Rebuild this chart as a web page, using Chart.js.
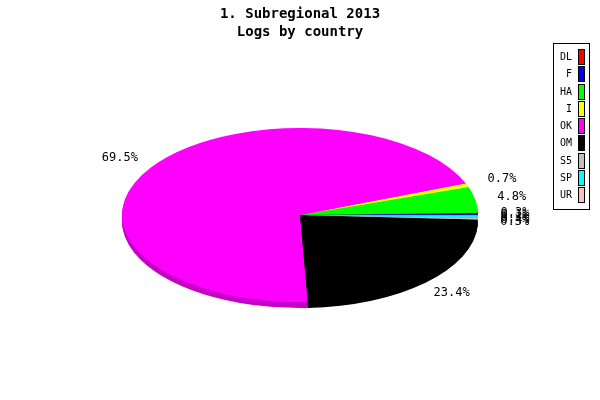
<!DOCTYPE html>
<html>
<head>
<meta charset="utf-8">
<script src="https://cdn.jsdelivr.net/npm/chart.js@4.4.0/dist/chart.umd.min.js"></script>
<style>
  html, body { margin: 0; padding: 0; background: #fff; }
  #wrap { width: 600px; height: 400px; position: relative; }
</style>
</head>
<body>
<div id="wrap"><canvas id="pie"></canvas></div>
<script>
// data, in legend order (drawn counterclockwise from 3 o'clock)
const countries = ['DL', 'F', 'HA', 'I', 'OK', 'OM', 'S5', 'SP', 'UR'];
const shares = [0.1, 0.3, 4.8, 0.7, 69.5, 23.4, 0.3, 0.4, 0.1];
const colors = ['#ff0000', '#0000ff', '#00ff00', '#ffff00', '#ff00ff', '#000000', '#c0c0c0', '#00ffff', '#ffc0c0'];
const titleLines = ['1. Subregional 2013', 'Logs by country'];

// flattened pie geometry
const CX = 300, CY = 215, RX = 178, RY = 87, DEPTH = 6;

function darken(hex, f) {
    const n = parseInt(hex.slice(1), 16);
    const r = Math.round(((n >> 16) & 255) * f);
    const g = Math.round(((n >> 8) & 255) * f);
    const b = Math.round((n & 255) * f);
    return 'rgb(' + r + ',' + g + ',' + b + ')';
}

// maps the round pie onto a mirrored ellipse so slices run counterclockwise
function toEllipse(ctx, el, dy) {
    const r = el.outerRadius;
    ctx.translate(CX, CY + dy);
    ctx.scale(-RX / r, RY / r);
    ctx.translate(-el.x, -el.y);
}

const ellipsePie = {
    id: 'ellipsePie',
    beforeDatasetsDraw(chart) {
        const ctx = chart.ctx;
        const arcs = chart.getDatasetMeta(0).data;
        if (!arcs.length) return;
        // side of the disc
        for (let d = DEPTH; d >= 1; d--) {
            ctx.save();
            toEllipse(ctx, arcs[0], d);
            arcs.forEach((el, i) => {
                ctx.beginPath();
                ctx.moveTo(el.x, el.y);
                ctx.arc(el.x, el.y, el.outerRadius, el.startAngle, el.endAngle);
                ctx.closePath();
                ctx.fillStyle = darken(colors[i], 0.78);
                ctx.fill();
            });
            ctx.restore();
        }
        ctx.save();
        toEllipse(ctx, arcs[0], 0);
    },
    afterDatasetsDraw(chart) {
        const ctx = chart.ctx;
        ctx.restore();
        // percent labels
        const arcs = chart.getDatasetMeta(0).data;
        ctx.save();
        ctx.font = '12px "DejaVu Sans Mono", monospace';
        ctx.fillStyle = '#000';
        ctx.textAlign = 'center';
        ctx.textBaseline = 'middle';
        arcs.forEach((el, i) => {
            const a = (el.startAngle + el.endAngle) / 2;
            const dx = -Math.cos(a), dy = Math.sin(a);
            const x = CX + dx * 215;
            const y = CY + dy * 105 + (dy > 0 ? DEPTH / 2 : 0);
            ctx.fillText(shares[i].toFixed(1) + '%', x, y);
        });
        ctx.restore();
    },
    afterDraw(chart) {
        // boxed legend, labels left of tall swatches
        const ctx = chart.ctx;
        ctx.save();
        ctx.strokeStyle = '#000';
        ctx.lineWidth = 1;
        ctx.strokeRect(553.5, 43.5, 36, 166);
        ctx.font = '10px "DejaVu Sans Mono", monospace';
        ctx.textAlign = 'right';
        ctx.textBaseline = 'middle';
        countries.forEach((c, i) => {
            const y = Math.round(57 + i * 17.25);
            ctx.fillStyle = '#000';
            ctx.fillText(c, 572, y);
            ctx.fillStyle = colors[i];
            ctx.fillRect(579, y - 7, 5, 15);
            ctx.strokeRect(578.5, y - 7.5, 6, 15);
        });
        ctx.restore();
    }
};

new Chart(document.getElementById('pie'), {
    type: 'pie',
    data: {
        labels: countries,
        datasets: [{
            data: shares,
            backgroundColor: colors,
            borderWidth: 0
        }]
    },
    options: {
        responsive: true,
        maintainAspectRatio: false,
        animation: false,
        events: [],
        rotation: 270,
        plugins: {
            legend: { display: false },
            tooltip: { enabled: false },
            title: {
                display: true,
                text: titleLines,
                color: '#000',
                font: { family: '"DejaVu Sans Mono", monospace', size: 14, weight: 'bold', lineHeight: 1.3 },
                padding: { top: 5, bottom: 0 }
            }
        }
    },
    plugins: [ellipsePie]
});
</script>
</body>
</html>
